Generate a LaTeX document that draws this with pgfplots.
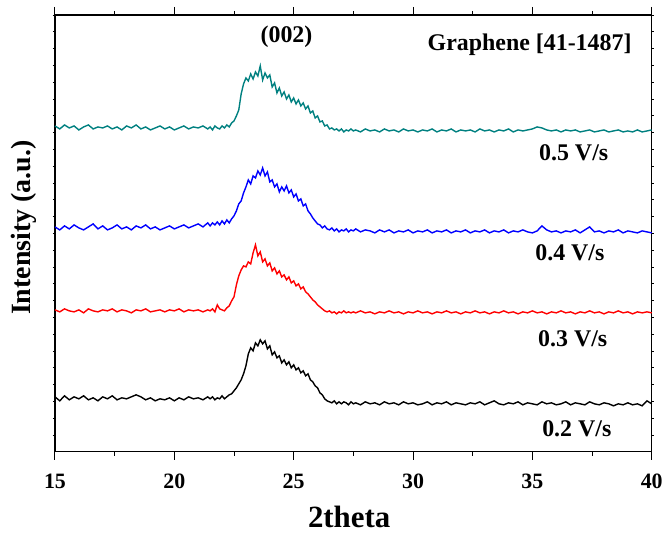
\documentclass[border=0pt]{standalone}
\usepackage{fontspec}
\setmainfont{Liberation Serif}
\usepackage{pgfplots}
\pgfplotsset{compat=1.18}
\usepackage{pgfplotstable}

\definecolor{xteal}{RGB}{0,128,128}

% columns: 2theta, 0.5 V/s, 0.4 V/s, 0.3 V/s, 0.2 V/s (offset intensities, a.u.)
\pgfplotstableread{
x T B R K
15.0 326 225 142 55
15.2 323 222 140 51
15.4 327 226 143 56
15.6 324 223 141 52
15.8 326 227 140 55
16.0 322 224 142 53
16.2 325 222 139 56
16.4 327 225 143 52
16.6 323 228 141 54
16.8 325 223 140 51
17.0 324 226 142 55
17.2 326 222 141 53
17.4 323 224 143 56
17.6 325 227 140 52
17.8 322 223 142 54
18.0 326 225 141 53
18.2 324 222 139 55
18.4 327 226 142 57
18.6 323 224 141 55
18.8 325 227 143 52
19.0 322 223 140 54
19.2 324 225 141 51
19.4 326 222 142 53
19.6 323 224 140 52
19.8 325 226 142 54
20.0 322 223 141 51
20.2 324 225 143 54
20.4 326 227 140 52
20.6 323 224 142 55
20.8 325 226 141 53
21.0 324 228 142 54
21.2 326 225 140 52
21.4 323 229 142 55
21.5 325 226 141 53
21.6 322 229 143 55
21.7 326 227 140 52
21.8 324 230 147 54
21.9 323 227 143 53
22.0 326 231 142 56
22.1 324 228 141 53
22.2 327 232 144 55
22.3 325 229 146 57
22.4 329 233 151 58
22.5 331 236 155 61
22.6 336 241 167 64
22.7 342 248 176 68
22.8 358 251 182 72
22.9 368 259 186 78
23.0 374 265 185 86
23.1 371 272 190 98
23.2 378 268 188 104
23.3 373 276 199 101
23.4 380 274 207 109
23.5 376 281 196 106
23.6 386 277 200 112
23.7 372 284 190 108
23.8 379 276 193 111
23.9 374 280 186 103
24.0 377 270 189 106
24.1 365 272 181 97
24.2 369 265 184 100
24.3 359 268 178 94
24.4 364 260 181 96
24.5 356 265 175 89
24.6 360 261 177 92
24.7 353 266 172 87
24.8 357 259 175 90
24.9 350 262 169 84
25.0 354 255 171 87
25.1 348 258 166 82
25.2 352 251 168 84
25.3 346 253 163 79
25.4 349 246 165 81
25.5 343 248 160 76
25.6 346 241 158 78
25.7 339 238 155 72
25.8 341 234 152 70
25.9 334 231 150 66
26.0 336 228 147 64
26.1 330 227 145 59
26.2 331 224 143 57
26.3 326 226 141 53
26.4 327 223 140 51
26.5 323 222 141 50
26.6 324 224 139 49
26.7 322 221 140 51
26.8 323 223 138 48
26.9 321 220 140 50
27.0 323 222 139 48
27.1 320 221 141 50
27.2 322 223 139 49
27.3 321 220 140 47
27.4 323 222 139 50
27.5 321 221 140 48
27.6 322 223 139 49
27.8 320 220 141 47
28.0 323 222 139 50
28.2 321 221 140 48
28.4 322 219 138 49
28.6 320 222 140 47
28.8 323 220 139 50
29.0 321 222 141 48
29.2 322 219 139 49
29.4 320 221 140 47
29.6 323 220 138 50
29.8 321 222 140 48
30.0 322 219 139 49
30.2 320 221 141 47
30.4 322 220 139 48
30.6 321 222 140 50
30.8 323 219 138 47
31.0 320 221 140 49
31.2 322 220 139 48
31.4 321 222 141 50
31.6 323 219 139 47
31.8 320 221 140 49
32.0 322 220 138 48
32.2 321 222 140 47
32.4 322 219 139 49
32.6 320 221 141 48
32.8 323 220 139 50
33.0 321 222 140 47
33.2 322 219 138 49
33.4 320 221 140 51
33.6 322 220 139 48
33.8 321 222 141 47
34.0 323 219 139 49
34.2 320 221 140 48
34.4 322 220 138 50
34.6 321 222 140 47
34.8 322 220 139 49
35.0 323 219 141 48
35.2 325 221 139 47
35.4 324 226 140 50
35.6 322 222 138 48
35.8 321 220 140 49
36.0 322 221 139 47
36.2 320 219 141 48
36.4 322 221 139 50
36.6 321 220 140 47
36.8 322 222 138 49
37.0 320 219 140 48
37.2 321 222 139 47
37.4 322 225 141 50
37.6 320 220 139 48
37.8 321 221 140 47
38.0 322 219 138 49
38.2 320 221 140 48
38.4 321 220 139 46
38.6 322 222 141 48
38.8 320 219 139 47
39.0 321 221 140 49
39.2 320 220 138 47
39.4 322 219 140 48
39.6 320 221 139 46
39.8 321 220 140 51
40.0 322 219 139 48
}\xrd

\begin{document}
\begin{tikzpicture}
\begin{axis}[
  scale only axis,
  width=597bp, height=437bp,
  xmin=15, xmax=40, ymin=0, ymax=437,
  xtick={15,20,...,40},
  minor x tick num=1,
  ytick=\empty,
  extra y ticks={16.8,33.6,...,430},
  extra y tick labels={},
  extra y tick style={major tick length=2bp},
  tick align=outside,
  major tick length=8bp, minor tick length=4bp,
  axis line style={line width=1.2bp},
  every tick/.style={black, line width=1bp},
  /pgf/number format/assume math mode=true,
  tick label style={font=\fontsize{22}{26}\selectfont\bfseries},
  xticklabel style={yshift=-11bp},
  xlabel={2theta},
  ylabel={Intensity (a.u.)},
  xlabel style={font=\fontsize{31}{36}\selectfont\bfseries, at={(axis description cs:0.493,-0.174)}, anchor=base},
  ylabel style={font=\fontsize{28}{32}\selectfont\bfseries, at={(axis description cs:-0.052,0.513)}, anchor=center},
  clip=false,
]
\addplot[black, line width=1.4bp] table[x=x,y=K] {\xrd};
\addplot[red, line width=1.4bp] table[x=x,y=R] {\xrd};
\addplot[blue, line width=1.4bp] table[x=x,y=B] {\xrd};
\addplot[xteal, line width=1.4bp] table[x=x,y=T] {\xrd};

\node[font=\fontsize{24}{28}\selectfont\bfseries] at (axis cs:24.7,415) {(002)};
\node[font=\fontsize{24}{28}\selectfont\bfseries, anchor=east] at (axis cs:39.3,407) {Graphene [41-1487]};
\node[font=\fontsize{24}{28}\selectfont\bfseries] at (axis cs:36.73,299) {0.5 V/s};
\node[font=\fontsize{24}{28}\selectfont\bfseries] at (axis cs:36.57,199) {0.4 V/s};
\node[font=\fontsize{24}{28}\selectfont\bfseries] at (axis cs:36.69,113) {0.3 V/s};
\node[font=\fontsize{24}{28}\selectfont\bfseries] at (axis cs:36.86,23) {0.2 V/s};
\end{axis}
\path (current axis.south west) ++(-55bp,-83bp) rectangle ++(666bp,535bp);
\end{tikzpicture}
\end{document}
